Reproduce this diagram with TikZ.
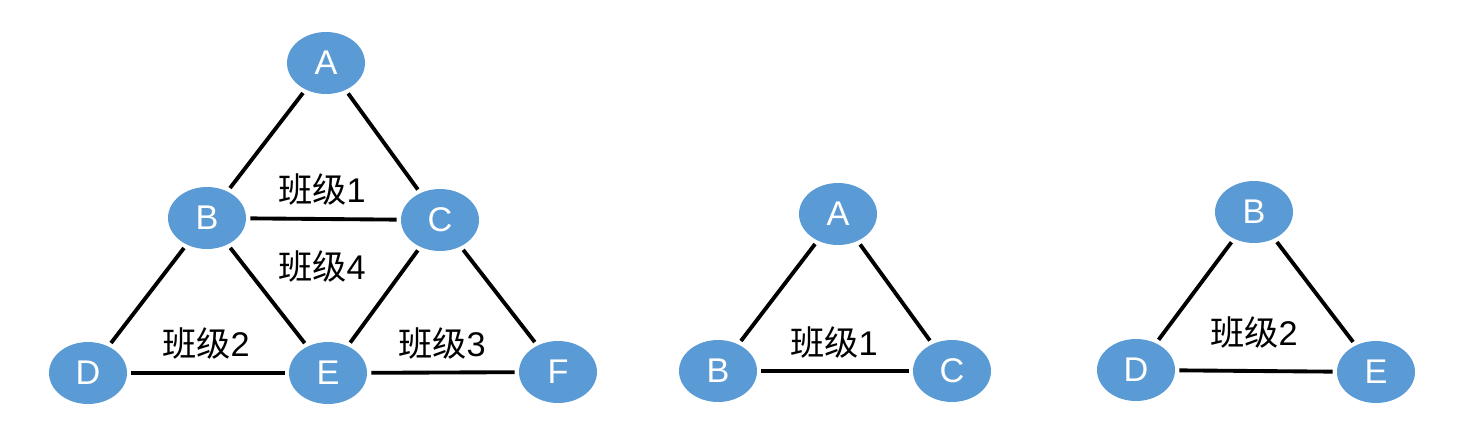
\documentclass[tikz,border=0pt]{standalone}
\usepackage{fontspec}
\setmainfont{Liberation Sans}
\newfontfamily\cjk{Noto Sans CJK SC}
\definecolor{nodeblue}{RGB}{91, 155, 213}
\usetikzlibrary{shapes.geometric}

\begin{document}
\begin{tikzpicture}[
  nd/.style={ellipse, fill=nodeblue, minimum width=1.56cm, minimum height=1.24cm, inner sep=0pt, outer sep=2.5pt, text=white, font=\fontsize{19.5}{22}\selectfont},
  edge/.style={line width=2.2pt, black},
  lbl/.style={font=\fontsize{19.5}{22}\selectfont},
]
  \useasboundingbox (0, 0) rectangle (29.32, 8.56);
  % left graph
  \node[nd] (lA) at (6.52, 7.30) {A};
  \node[nd] (lB) at (4.14, 4.20) {B};
  \node[nd] (lC) at (8.80, 4.16) {C};
  \node[nd] (lD) at (1.76, 1.10) {D};
  \node[nd] (lE) at (6.56, 1.10) {E};
  \node[nd] (lF) at (11.16, 1.12) {F};
  \draw[edge] (lA) -- (lB);
  \draw[edge] (lA) -- (lC);
  \draw[edge] (lB) -- (lC);
  \draw[edge] (lB) -- (lD);
  \draw[edge] (lB) -- (lE);
  \draw[edge] (lC) -- (lE);
  \draw[edge] (lC) -- (lF);
  \draw[edge] (lD) -- (lE);
  \draw[edge] (lE) -- (lF);
  \node[lbl] (k1) at (6.44, 4.78) {{\cjk 班级}1};
  \node[lbl] (k4) at (6.44, 3.24) {{\cjk 班级}4};
  \node[lbl] (k2) at (4.12, 1.70) {{\cjk 班级}2};
  \node[lbl] (k3) at (8.84, 1.70) {{\cjk 班级}3};
  % middle graph
  \node[nd] (mA) at (16.76, 4.28) {A};
  \node[nd] (mB) at (14.36, 1.14) {B};
  \node[nd] (mC) at (19.04, 1.14) {C};
  \draw[edge] (mA) -- (mB);
  \draw[edge] (mA) -- (mC);
  \draw[edge] (mB) -- (mC);
  \node[lbl] (mk1) at (16.68, 1.72) {{\cjk 班级}1};
  % right graph
  \node[nd] (rB) at (25.08, 4.32) {B};
  \node[nd] (rD) at (22.72, 1.16) {D};
  \node[nd] (rE) at (27.52, 1.12) {E};
  \draw[edge] (rB) -- (rD);
  \draw[edge] (rB) -- (rE);
  \draw[edge] (rD) -- (rE);
  \node[lbl] (rk2) at (25.08, 1.92) {{\cjk 班级}2};
\end{tikzpicture}
\end{document}
